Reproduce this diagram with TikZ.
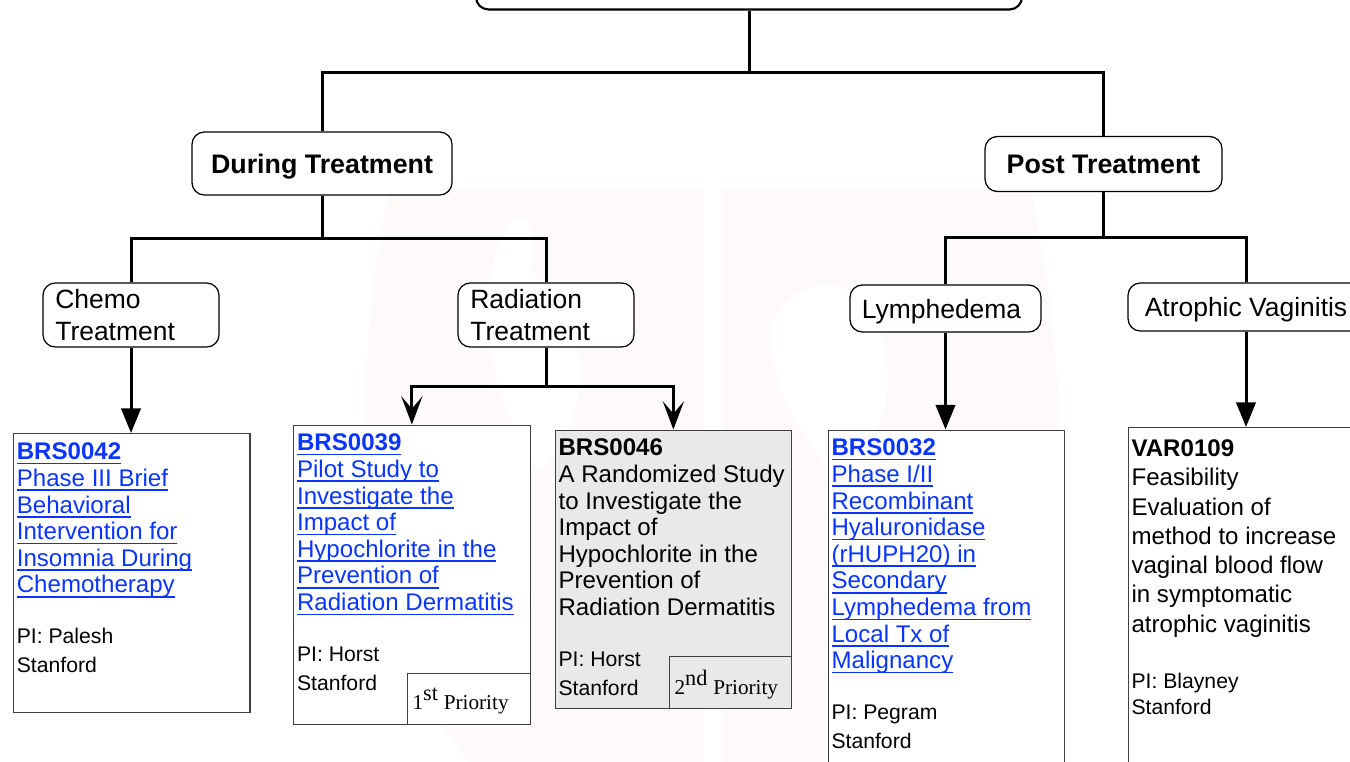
\documentclass[tikz,border=0pt]{standalone}
\usepackage{fontspec}
\usepackage{xparse}
\setmainfont{Liberation Sans}
\newfontfamily\priofont{Liberation Serif}
\usetikzlibrary{calc,arrows.meta}
\definecolor{linkblue}{HTML}{0A35FF}
\definecolor{boxgray}{HTML}{E9E9E9}
\definecolor{sealtint}{HTML}{FEFAF9}
\def\px{0.5669pt}
\newcommand{\lnk}[1]{\leavevmode{\color{linkblue}\setbox0=\hbox{#1}\rlap{\rule[-2.6pt]{\wd0}{0.9pt}}\box0}}
\newcommand{\prio}[2]{\fontsize{12}{14}\selectfont#1\raisebox{0.45em}{\fontsize{12.6}{14}\selectfont#2} Priority}
\tikzset{
    tak/.style={line width=1.7pt},
    pijl/.style={line width=1.7pt,-{Triangle[width=11pt,length=14pt]}},
    takpijl/.style={line width=1.7pt,-{Stealth[width=12pt,length=16pt,inset=7pt]}},
    rondkader/.style={draw=black,line width=0.7pt,rounded corners=7pt,fill=white,inner sep=0pt},
    kop/.style={rondkader,text depth=0pt,font=\fontsize{15.2}{18.1}\selectfont\bfseries},
    tak2/.style={rondkader,font=\fontsize{15}{18.1}\selectfont},
    linksom/.style={tak2,text width=85.8pt,align=left,inner xsep=7pt},
    trialbox/.style={draw=black!75,line width=0.7pt,anchor=north west,minimum width=236.5*\px,inner sep=0pt},
    titletext/.style={anchor=north west,inner sep=0pt,align=left,font=\fontsize{13.65}{15.1}\selectfont},
    pitext/.style={anchor=north west,inner sep=0pt,align=left,font=\fontsize{12}{16.2}\selectfont},
    priobox/.style={draw=black!75,line width=0.7pt,anchor=south east,inner sep=0pt,text depth=0pt,text width=63.5pt,align=left,font=\priofont}
}
\NewDocumentCommand{\trialkader}{O{fill=white} O{} m m m m m m m}{ % vulling, titel, naam, links, boven, hoogte, titeltekst, PI boven, PI tekst
    \node[trialbox,#1,minimum height=#6*\px] (#3) at (#4,#5) {};
    \node[titletext,#2] (#3title) at ($(#3.north west)+(3.7,9.1)$) {#7};
    \node[pitext] (#3pi) at ($(#3.north west)+(3.7,#8-#5)$) {#9};
}

\begin{document}
\begin{tikzpicture}[x=0.5669pt,y=-0.5669pt]
    \clip (0,0) rectangle (1350,762);
    % zegel in de achtergrond
    \fill[sealtint] (390,188) -- (703,188) -- (703,762) -- (470,762) .. controls (420,700) and (380,640) .. (365,560) .. controls (360,440) and (365,300) .. (390,188) -- cycle;
    \fill[sealtint] (722,188) -- (1030,188) .. controls (1055,300) and (1066,450) .. (1060,560) .. controls (1050,640) and (1020,700) .. (985,762) -- (722,762) -- cycle;
    \fill[white] (770,330) .. controls (790,270) and (860,270) .. (880,330) .. controls (900,400) and (880,450) .. (830,470) .. controls (800,430) and (770,390) .. (770,330) -- cycle;
    \fill[white] (500,240) .. controls (520,200) and (540,220) .. (530,270) .. controls (600,330) and (590,420) .. (540,470) .. controls (500,420) and (470,320) .. (500,240) -- cycle;
    % bovenste rij
    \node[rondkader,line width=1.2pt,minimum width=546*\px,minimum height=60*\px,anchor=south] (top) at (749,10.5) {};
    \node[kop,minimum width=260*\px,minimum height=63*\px] (during) at (322,163.5) {During Treatment};
    \node[kop,minimum width=237*\px,minimum height=55*\px] (post) at (1103.5,164) {Post Treatment};
    % behandelingen
    \node[linksom,minimum height=64*\px] (chemo) at (131,315) {Chemo\\Treatment};
    \node[linksom,minimum height=64*\px] (radiation) at (546,315) {Radiation\\Treatment};
    \node[tak2,text depth=0pt,minimum width=191*\px,minimum height=47*\px] (lymphedema) at (945.5,308.5) {Lymphedema\kern4.5pt};
    \node[tak2,text depth=0pt,minimum width=236*\px,minimum height=48*\px] (atrophic) at (1246,307) {Atrophic Vaginitis};
    % studies
    \trialkader[][yshift=-0.3pt]{BRS0042}{12.8}{433}{279}{\textbf{\lnk{BRS0042}}\\\lnk{Phase III Brief}\\\lnk{Behavioral}\\\lnk{Intervention for}\\\lnk{Insomnia During}\\\lnk{Chemotherapy}}{628}{PI: Palesh\\Stanford}
    \trialkader{BRS0039}{293}{424.5}{299}{\textbf{\lnk{BRS0039}}\\\lnk{Pilot Study to}\\\lnk{Investigate the}\\\lnk{Impact of}\\\lnk{Hypochlorite in the}\\\lnk{Prevention of}\\\lnk{Radiation Dermatitis}}{647}{PI: Horst\\Stanford}
    \trialkader[fill=boxgray]{BRS0046}{554.5}{429.5}{278}{\textbf{BRS0046}\\A Randomized Study\\to Investigate the\\Impact of\\Hypochlorite in the\\Prevention of\\Radiation Dermatitis}{652}{PI: Horst\\Stanford}
    \trialkader{BRS0032}{827.5}{429.5}{360}{\textbf{\lnk{BRS0032}}\\\lnk{Phase I/II}\\\lnk{Recombinant}\\\lnk{Hyaluronidase}\\\lnk{(rHUPH20) in}\\\lnk{Secondary}\\\lnk{Lymphedema from}\\\lnk{Local Tx of}\\\lnk{Malignancy}}{705}{PI: Pegram\\Stanford}
    \trialkader[][yshift=-1.8pt,font=\fontsize{13.65}{16.6}\selectfont]{VAR0109}{1127.5}{427}{360}{\textbf{VAR0109}\\Feasibility\\Evaluation of\\method to increase\\vaginal blood flow\\in symptomatic\\atrophic vaginitis}{673}{PI: Blayney\\[-1.4pt]Stanford}
    \node[priobox,fill=white,minimum width=123*\px,minimum height=51*\px] (first) at (BRS0039.south east) {\prio{1}{st}};
    \node[priobox,fill=boxgray,minimum width=122*\px,minimum height=52*\px] (second) at (BRS0046.south east) {\prio{2}{nd}};
    % verbindingen
    \coordinate (toptak) at (749,72);
    \coordinate (duringtak) at (322,238);
    \coordinate (posttak) at (1103.5,237);
    \coordinate (radtak) at (546,386);
    \draw[tak] (top.south) -- (toptak);
    \draw[tak] (during.north) |- (toptak) -| (post.north);
    \draw[tak] (during.south) -- (duringtak);
    \draw[tak] (chemo.north) |- (duringtak) -| (radiation.north);
    \draw[tak] (post.south) -- (posttak);
    \draw[tak] (lymphedema.north) |- (posttak) -| (atrophic.north);
    \draw[tak] (radiation.south) -- (radtak);
    \draw[takpijl] (radtak) -| (BRS0039.north);
    \draw[takpijl] (radtak) -| (BRS0046.north);
    \draw[pijl] (chemo.south) -- (chemo.south |- BRS0042.north);
    \draw[pijl] (lymphedema.south) -- (lymphedema.south |- BRS0032.north);
    \draw[pijl] (atrophic.south) -- (atrophic.south |- VAR0109.north);
\end{tikzpicture}
\end{document}
